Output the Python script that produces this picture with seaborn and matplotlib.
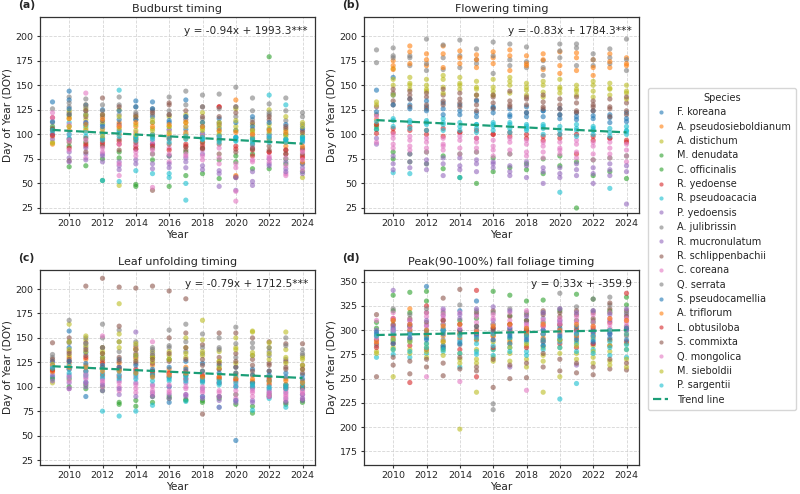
import numpy as np
import pandas as pd
import matplotlib
matplotlib.use("Agg")
import matplotlib.pyplot as plt
from matplotlib.lines import Line2D
import seaborn as sns

nan = float("nan")
years = list(range(2009, 2025))

species = ["F. koreana", "A. pseudosieboldianum", "A. distichum", "M. denudata",
           "C. officinalis", "R. yedoense", "R. pseudoacacia", "P. yedoensis",
           "A. julibrissin", "R. mucronulatum", "R. schlippenbachii", "C. coreana",
           "Q. serrata", "S. pseudocamellia", "A. triflorum", "L. obtusiloba",
           "S. commixta", "Q. mongolica", "M. sieboldii", "P. sargentii"]

species_colors = ["#1f77b4", "#ff7f0e", "#bcbd22", "#2ca02c", "#2ca02c", "#d62728",
                  "#17becf", "#9467bd", "#7f7f7f", "#9467bd", "#8c564b", "#e377c2",
                  "#7f7f7f", "#1f77b4", "#ff7f0e", "#d62728", "#8c564b", "#e377c2",
                  "#bcbd22", "#17becf"]

# DOY per species (rows, same order as `species`) and year 2009..2024 (columns)
budburst_doy = [
    [133, 144, 120, 110, 104, 134, 133, 112, 105, 101, 99, 97, 96, 100, 95, 92],
    [98, 104, 130, 95, 112, 108, 100, 97, 102, 92, 95, 135, 90, 94, 88, 84],
    [92, 118, 115, 112, 48, 110, 106, 118, 120, 112, 103, 108, 98, 110, 104, 56],
    [108, 67, 68, 53, 82, 47, 80, 47, 58, 60, 74, 78, 65, 179, 70, 62],
    [105, 88, 92, 75, 76, 49, 74, 78, 82, 85, 55, 72, 80, 65, 75, 70],
    [117, 95, 88, 90, 93, 88, 90, 95, 87, 89, 128, 85, 84, 82, 80, 78],
    [101, 112, 108, 53, 145, 63, 60, 56, 33, 99, 96, 97, 92, 140, 130, 95],
    [95, 82, 86, 80, 72, 85, 90, 78, 76, 80, 47, 43, 48, 75, 72, 70],
    [126, 138, 136, 130, 138, 128, 126, 138, 144, 140, 141, 148, 137, 131, 137, 122],
    [100, 76, 80, 72, 68, 74, 70, 66, 72, 68, 63, 57, 52, 70, 65, 66],
    [106, 73, 82, 137, 84, 95, 43, 132, 88, 92, 90, 56, 85, 88, 84, 80],
    [122, 100, 142, 96, 58, 90, 93, 86, 100, 84, 86, 32, 88, 78, 58, 63],
    [112, 128, 124, 118, 120, 115, 112, 120, 118, 116, 112, 118, 115, 120, 114, 110],
    [113, 135, 130, 125, 115, 128, 118, 105, 135, 108, 106, 104, 118, 105, 100, 98],
    [90, 108, 104, 102, 100, 96, 98, 100, 96, 98, 94, 58, 95, 96, 92, 72],
    [99, 86, 90, 92, 90, 85, 88, 84, 90, 86, 128, 88, 78, 82, 84, 76],
    [104, 122, 118, 114, 110, 120, 124, 130, 115, 128, 110, 128, 105, 115, 106, 104],
    [117, 110, 112, 106, 108, 102, 46, 104, 108, 100, 98, 42, 100, 98, 60, 84],
    [91, 124, 126, 120, 125, 118, 115, 108, 112, 122, 108, 126, 110, 125, 118, 112],
    [104, 120, 110, 100, 52, 98, 97, 60, 50, 95, 92, 94, 90, 96, 94, 96],
]

flowering_doy = [
    [145, 158, 130, 128, 126, 124, 122, 127, 120, 118, 124, 116, 115, 119, 117, 113],
    [110, 175, 190, 182, 190, 185, 181, 178, 186, 180, 182, 184, 183, 176, 182, 178],
    [133, 167, 152, 150, 148, 152, 146, 148, 150, 145, 143, 148, 146, 144, 147, 142],
    [105, 75, 72, 70, 65, 56, 50, 62, 66, 64, 60, 68, 25, 58, 62, 55],
    [108, 82, 80, 82, 78, 80, 82, 76, 80, 70, 75, 78, 72, 74, 76, 78],
    [110, 102, 104, 100, 98, 102, 96, 100, 98, 96, 94, 100, 80, 94, 96, 92],
    [105, 61, 60, 112, 112, 56, 110, 108, 110, 106, 108, 41, 104, 106, 45, 103],
    [96, 78, 80, 64, 58, 76, 74, 72, 58, 72, 50, 66, 70, 50, 70, 29],
    [186, 188, 180, 197, 191, 196, 187, 194, 192, 189, 175, 192, 192, 182, 187, 197],
    [90, 70, 72, 70, 70, 68, 70, 66, 68, 56, 62, 60, 58, 66, 64, 62],
    [120, 142, 140, 138, 140, 136, 135, 138, 134, 136, 133, 130, 132, 130, 128, 132],
    [92, 96, 94, 92, 90, 94, 92, 88, 92, 90, 88, 86, 90, 88, 86, 84],
    [173, 178, 170, 165, 166, 168, 172, 162, 170, 168, 160, 185, 188, 170, 178, 165],
    [123, 140, 136, 134, 132, 130, 134, 128, 126, 128, 124, 126, 122, 124, 120, 122],
    [115, 166, 172, 170, 168, 172, 168, 172, 165, 170, 166, 162, 165, 160, 168, 170],
    [101, 106, 108, 104, 106, 102, 104, 100, 102, 100, 98, 96, 100, 98, 96, 94],
    [128, 130, 128, 126, 130, 128, 124, 126, 128, 122, 126, 120, 122, 124, 118, 120],
    [118, 86, 84, 82, 84, 80, 82, 78, 80, 78, 76, 80, 76, 74, 76, 72],
    [130, 150, 146, 144, 142, 146, 140, 144, 142, 140, 138, 142, 140, 138, 140, 136],
    [113, 114, 112, 110, 110, 108, 106, 110, 106, 108, 106, 104, 106, 104, 102, 104],
]

leaf_doy = [
    [110, 157, 90, 120, 118, 116, 114, 84, 112, 110, 108, 45, 104, 106, 102, 100],
    [115, 130, 128, 126, 124, 140, 122, 118, 120, 116, 118, 114, 112, 110, 108, 106],
    [104, 164, 148, 140, 185, 138, 136, 132, 130, 168, 126, 150, 157, 140, 156, 128],
    [108, 100, 98, 96, 84, 80, 90, 88, 87, 84, 90, 82, 73, 90, 84, 84],
    [118, 108, 102, 100, 82, 86, 84, 90, 86, 86, 88, 92, 80, 92, 82, 86],
    [122, 118, 116, 112, 110, 130, 112, 110, 108, 106, 104, 108, 100, 102, 98, 100],
    [120, 110, 105, 75, 70, 75, 81, 100, 85, 90, 79, 86, 76, 88, 79, 92],
    [112, 112, 110, 108, 106, 104, 102, 100, 104, 98, 79, 100, 98, 96, 94, 92],
    [130, 168, 150, 164, 158, 146, 140, 158, 164, 154, 150, 161, 145, 140, 150, 138],
    [106, 104, 100, 96, 92, 156, 94, 92, 90, 88, 86, 84, 86, 90, 88, 86],
    [145, 150, 203, 211, 202, 201, 203, 198, 190, 72, 155, 155, 150, 146, 144, 144],
    [125, 98, 108, 104, 100, 98, 96, 94, 92, 94, 90, 88, 90, 92, 86, 88],
    [133, 145, 140, 150, 136, 142, 138, 140, 136, 134, 140, 130, 132, 136, 128, 132],
    [126, 140, 135, 130, 128, 132, 130, 128, 126, 124, 122, 120, 118, 116, 114, 112],
    [116, 124, 122, 120, 118, 138, 116, 114, 112, 110, 108, 112, 106, 104, 102, 100],
    [117, 126, 130, 124, 120, 118, 116, 114, 116, 112, 110, 106, 104, 108, 100, 98],
    [128, 136, 145, 140, 162, 134, 132, 150, 155, 143, 130, 134, 128, 124, 126, 122],
    [121, 118, 114, 152, 112, 110, 146, 112, 108, 106, 104, 102, 100, 98, 96, 94],
    [123, 132, 152, 134, 154, 144, 130, 128, 150, 148, 126, 124, 156, 145, 130, 130],
    [119, 122, 120, 118, 116, 114, 112, 110, 112, 108, 106, 110, 104, 106, 102, 104],
]

foliage_doy = [
    [296, 300, 298, 345, 300, 320, 330, 302, 296, 300, 288, 310, 296, 300, 298, 300],
    [290, 305, 322, 296, 294, 298, 300, 294, 300, 298, 296, 298, 302, 296, 300, 302],
    [278, 252, 290, 286, 282, 198, 236, 280, 290, 284, 236, 282, 288, 284, 278, 286],
    [302, 336, 339, 340, 298, 296, 300, 340, 336, 330, 331, 320, 337, 332, 318, 326],
    [308, 320, 318, 330, 306, 310, 312, 306, 315, 310, 308, 305, 310, 308, 320, 334],
    [286, 312, 246, 325, 310, 300, 341, 302, 306, 300, 304, 306, 300, 302, 308, 338],
    [272, 275, 272, 276, 278, 262, 275, 280, 282, 278, 284, 229, 245, 280, 274, 272],
    [300, 341, 310, 305, 315, 312, 316, 310, 262, 308, 312, 308, 264, 286, 310, 316],
    [294, 296, 300, 298, 302, 296, 294, 224, 300, 302, 296, 338, 300, 310, 334, 304],
    [290, 294, 296, 292, 300, 290, 294, 296, 298, 292, 300, 296, 298, 294, 296, 300],
    [252, 264, 255, 262, 253, 260, 258, 241, 250, 251, 262, 258, 256, 254, 260, 259],
    [310, 318, 306, 252, 320, 247, 300, 290, 302, 238, 296, 300, 294, 298, 302, 304],
    [284, 288, 290, 294, 290, 285, 290, 218, 292, 294, 288, 290, 292, 332, 290, 294],
    [298, 302, 304, 300, 296, 300, 304, 298, 302, 296, 300, 302, 304, 298, 296, 302],
    [288, 292, 300, 294, 288, 292, 290, 294, 288, 296, 292, 290, 294, 292, 290, 296],
    [282, 286, 284, 280, 284, 280, 252, 282, 286, 282, 290, 286, 282, 286, 284, 288],
    [316, 310, 312, 318, 333, 342, 318, 320, 314, 316, 320, 318, 316, 318, 322, 320],
    [292, 298, 292, 318, 312, 306, 308, 312, 310, 304, 306, 310, 308, 304, 312, 310],
    [276, 282, 280, 278, 280, 270, 266, 272, 276, 270, 274, 252, 276, 272, 268, 270],
    [294, 290, 288, 286, 284, 288, 286, 284, 286, 288, 290, 288, 286, 290, 288, 285],
]

# additional site observations; species of each row given by index into `species`
extra_species_idx = [18, 19, 12, 16, 11, 9, 13, 2, 6, 17, 14, 10]

budburst_extra = [
    [nan, 116, 120, 105, 118, 104, 112, 102, 108, 104, 100, 104, 102, 106, 98, 100],
    [nan, 100, 98, 96, 102, 97, 100, 96, 95, 97, 94, 93, 96, 92, 95, 97],
    [nan, 132, 128, 124, 130, 122, 120, 124, 130, 128, 126, 128, 124, 122, 124, 118],
    [nan, 92, 96, 88, 95, 92, 86, 90, 84, 86, 80, 82, 86, 84, 80, 86],
    [nan, 84, 76, 82, 70, 78, 80, 72, 80, 74, 70, 66, 72, 72, 68, 74],
    [nan, 72, 74, 78, 64, 70, 65, 70, 66, 64, 60, 56, 62, 68, 62, 60],
    [nan, 126, 112, 108, 124, 115, 126, 114, 118, 112, 116, 112, 108, 112, 110, 106],
    [nan, 108, 106, 98, 106, 100, 104, 108, 100, 106, 112, 114, 104, 102, 100, 108],
    [nan, 96, 102, 94, 98, 94, 95, 92, 98, 95, 98, 96, 94, 98, 92, 94],
    [nan, 94, 94, 86, 90, 82, 84, 80, 78, 78, 76, 70, 74, 76, 76, 82],
    [nan, 116, 110, 116, 108, 112, 108, 110, 112, 108, 104, 102, 100, 104, 102, 88],
    [nan, 120, 124, 120, 128, 118, 122, 120, 124, 118, 118, 122, 112, 118, 108, 102],
]

flowering_extra = [
    [nan, 140, 150, 146, 156, 150, 148, 140, 154, 148, 150, 146, 144, 150, 146, 144],
    [nan, 116, 114, 114, 116, 112, 110, 112, 112, 110, 110, 108, 110, 108, 106, 108],
    [nan, 180, 178, 172, 178, 180, 176, 180, 176, 174, 168, 178, 170, 176, 172, 176],
    [nan, 134, 136, 130, 134, 132, 130, 132, 130, 130, 128, 126, 124, 128, 126, 124],
    [nan, 100, 98, 96, 96, 98, 96, 94, 96, 94, 92, 92, 94, 92, 92, 90],
    [nan, 64, 66, 74, 76, 64, 62, 70, 62, 68, 66, 56, 64, 60, 58, 68],
    [nan, 130, 126, 124, 120, 120, 118, 122, 118, 122, 118, 120, 118, 116, 112, 116],
    [nan, 156, 158, 156, 160, 158, 154, 156, 158, 152, 154, 156, 150, 154, 152, 150],
    [nan, 108, 106, 104, 104, 104, 102, 104, 102, 104, 100, 100, 98, 100, 98, 100],
    [nan, 90, 88, 86, 88, 86, 86, 84, 84, 82, 82, 84, 82, 80, 80, 78],
    [nan, 170, 184, 176, 182, 178, 176, 184, 180, 172, 176, 170, 178, 168, 174, 172],
    [nan, 146, 144, 142, 146, 142, 140, 140, 144, 138, 140, 136, 138, 134, 136, 138],
]

leaf_extra = [
    [nan, 138, 142, 136, 140, 132, 130, 136, 140, 132, 136, 140, 135, 128, 138, 122],
    [nan, 118, 116, 114, 112, 112, 110, 108, 110, 106, 104, 104, 102, 100, 100, 102],
    [nan, 146, 144, 140, 146, 138, 134, 142, 146, 140, 138, 144, 140, 132, 142, 134],
    [nan, 128, 132, 128, 126, 124, 124, 126, 128, 122, 118, 120, 116, 116, 118, 114],
    [nan, 106, 104, 100, 96, 94, 92, 96, 98, 96, 94, 92, 94, 90, 90, 92],
    [nan, 98, 104, 102, 98, 90, 90, 88, 92, 90, 90, 86, 84, 94, 84, 88],
    [nan, 126, 124, 122, 120, 122, 118, 120, 118, 116, 114, 114, 112, 112, 110, 108],
    [nan, 146, 136, 130, 146, 128, 126, 128, 134, 136, 120, 138, 132, 134, 124, 118],
    [nan, 114, 112, 110, 108, 108, 106, 106, 106, 104, 102, 100, 100, 98, 98, 98],
    [nan, 110, 112, 106, 104, 102, 100, 102, 100, 100, 96, 96, 96, 94, 92, 96],
    [nan, 120, 120, 116, 116, 114, 110, 112, 114, 110, 110, 108, 108, 106, 106, 104],
    [nan, 134, 138, 134, 130, 126, 128, 134, 140, 128, 124, 126, 122, 122, 120, 118],
]

foliage_extra = [
    [nan, 290, 288, 282, 288, 276, 280, 288, 282, 286, 282, 290, 284, 278, 284, 280],
    [nan, 298, 296, 292, 300, 294, 292, 296, 292, 294, 296, 292, 296, 294, 300, 296],
    [nan, 322, 316, 322, 318, 326, 320, 318, 322, 318, 318, 322, 324, 320, 326, 318],
    [nan, 306, 304, 308, 310, 306, 304, 300, 306, 310, 316, 314, 320, 312, 328, 314],
    [nan, 312, 310, 314, 316, 318, 314, 316, 318, 320, 310, 312, 314, 316, 318, 312],
    [nan, 304, 306, 310, 322, 316, 322, 324, 320, 314, 318, 322, 318, 320, 316, 322],
    [nan, 286, 292, 290, 282, 286, 296, 290, 294, 290, 284, 294, 290, 288, 292, 290],
    [nan, 280, 276, 272, 274, 266, 270, 268, 268, 262, 268, 276, 270, 266, 264, 262],
    [nan, 280, 278, 282, 280, 276, 278, 274, 278, 274, 280, 282, 278, 276, 282, 280],
    [nan, 300, 302, 304, 306, 302, 298, 306, 304, 306, 304, 306, 310, 308, 306, 308],
    [nan, 310, 306, 300, 304, 306, 298, 304, 306, 302, 306, 300, 306, 304, 312, 310],
    [nan, 272, 268, 270, 266, 272, 262, 270, 264, 266, 276, 270, 266, 262, 270, 266],
]

panel_titles = ["Budburst timing", "Flowering timing", "Leaf unfolding timing",
                "Peak(90-100%) fall foliage timing"]
panel_letters = ["(a)", "(b)", "(c)", "(d)"]
equations = ["y = -0.94x + 1993.3***", "y = -0.83x + 1784.3***",
             "y = -0.79x + 1712.5***", "y = 0.33x + -359.9"]
trend_start = [104.5, 114.5, 121.0, 295.0]   # trend line value at 2009
trend_end = [90.5, 102.0, 109.0, 300.0]      # trend line value at 2024
y_ticks_abc = [25, 50, 75, 100, 125, 150, 175, 200]
y_ticks_d = [175, 200, 225, 250, 275, 300, 325, 350]
x_ticks = [2010, 2012, 2014, 2016, 2018, 2020, 2022, 2024]

datasets = [budburst_doy, flowering_doy, leaf_doy, foliage_doy]
extras = [budburst_extra, flowering_extra, leaf_extra, foliage_extra]

sns.set_style("white")
plt.rcParams['font.family'] = ['DejaVu Sans']

fig = plt.figure(figsize=(8, 4.94), dpi=100)
W, H = 800, 494
boxes = [(40, 17, 315, 213), (364, 17, 639, 213),
         (40, 270, 315, 465), (364, 270, 639, 465)]
trend_color = "#1b9e77"
palette = dict(zip(species, species_colors))

for i, (data, extra, box) in enumerate(zip(datasets, extras, boxes)):
    l, t, r, b = box
    ax = fig.add_axes([l / W, 1 - b / H, (r - l) / W, (b - t) / H])
    rows = []
    for sp, vals in zip(species, data):
        for yr, v in zip(years, vals):
            rows.append({"Year": yr, "DOY": v, "Species": sp})
    for si, vals in zip(extra_species_idx, extra):
        for yr, v in zip(years, vals):
            rows.append({"Year": yr, "DOY": v, "Species": species[si]})
    df = pd.DataFrame(rows).dropna()
    sns.scatterplot(data=df, x="Year", y="DOY", hue="Species", palette=palette,
                    hue_order=species, s=14, alpha=0.6, edgecolor="none",
                    legend=False, ax=ax, zorder=2)
    ax.plot([years[0], years[-1]], [trend_start[i], trend_end[i]],
            linestyle="--", color=trend_color, linewidth=1.6, zorder=3)
    ax.set_xlim(2008.25, 2024.75)
    if i < 3:
        ax.set_ylim(19.9, 219.5)
        ax.set_yticks(y_ticks_abc)
    else:
        ax.set_ylim(161, 362)
        ax.set_yticks(y_ticks_d)
    ax.set_xticks(x_ticks)
    ax.grid(True, linestyle="--", color="#cccccc", linewidth=0.6, alpha=0.8)
    ax.set_axisbelow(True)
    ax.tick_params(axis="both", labelsize=6.8, length=2.5, width=0.8, pad=2,
                   color="#333333", left=True, bottom=True)
    ax.set_xlabel("Year", fontsize=7.6, labelpad=1.5)
    ax.set_ylabel("Day of Year (DOY)", fontsize=7.6, labelpad=2)
    ax.set_title(panel_titles[i], fontsize=8, pad=3.5)
    ax.text(0.975, 0.955, equations[i], transform=ax.transAxes, ha="right", va="top",
            fontsize=7.6)
    ax.text(-0.08, 1.035, panel_letters[i], transform=ax.transAxes, ha="left", va="bottom",
            fontsize=7.8, fontweight="bold")
    for sp in ax.spines.values():
        sp.set_color("#333333")
        sp.set_linewidth(0.9)

handles = [Line2D([0], [0], marker="o", linestyle="none", markersize=3,
                  markerfacecolor=c, markeredgecolor="none", alpha=0.6)
           for c in species_colors]
handles.append(Line2D([0], [0], linestyle="--", color=trend_color, linewidth=1.6))
labels = species + ["Trend line"]
leg = fig.legend(handles, labels, title="Species", loc="upper left",
                 bbox_to_anchor=(648 / W, 1 - 88 / H), fontsize=7.0, title_fontsize=7.0,
                 frameon=True, labelspacing=0.45, handlelength=1.6, handletextpad=0.9,
                 borderpad=0.5, borderaxespad=0)
leg.get_frame().set_edgecolor("#cccccc")

fig.savefig("out.png", dpi=100)
